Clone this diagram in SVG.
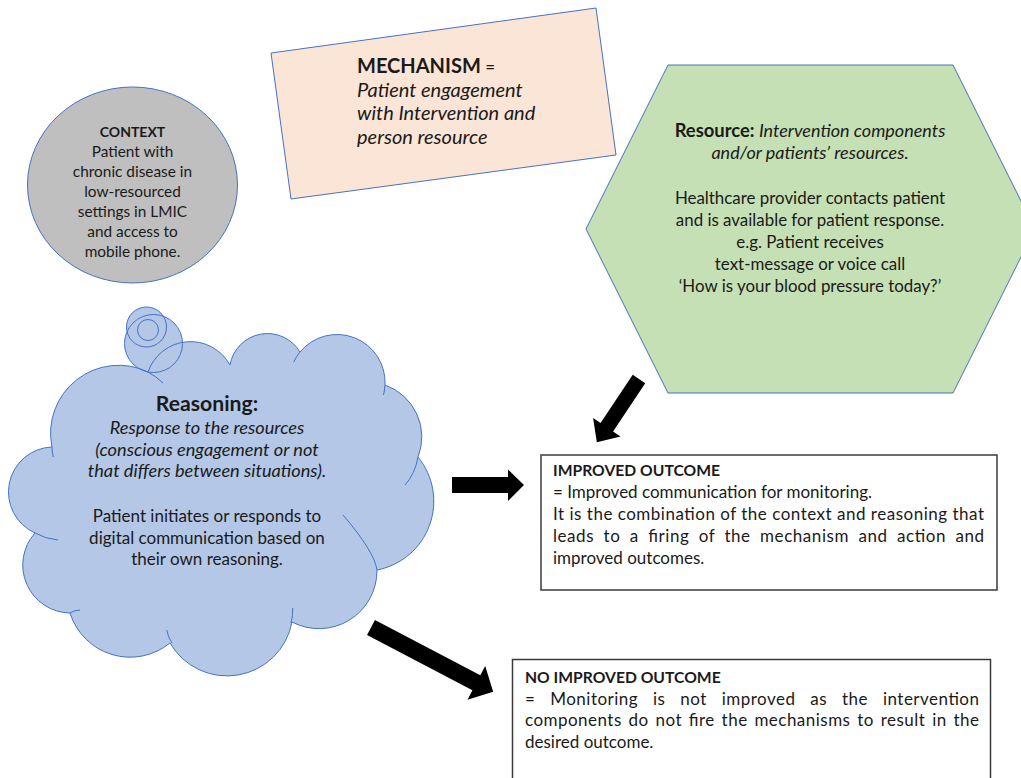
<svg xmlns="http://www.w3.org/2000/svg" width="1021" height="778" viewBox="0 0 1021 778">
<style>
text{font-family:Lato,"Liberation Sans",sans-serif;fill:#1a1a1a}
.shape{stroke:#4472C4;stroke-width:1}
.b{font-weight:bold}
.i{font-style:italic}
.c{text-anchor:middle}
.box{fill:#fff;stroke:#3a3a3a;stroke-width:1.5}
.arrow{fill:#000}
.inner{fill:none;stroke:#4472C4;stroke-width:1}
</style>
<rect width="1021" height="778" fill="#fff"/>

<g id="context">
<ellipse class="shape" cx="132.5" cy="185" rx="105" ry="98" fill="#BFBFBF"/>
<text class="c" font-size="15.4"><tspan class="b" x="132.5" y="137" font-size="14">CONTEXT</tspan><tspan x="132.5" y="157">Patient with</tspan><tspan x="132.5" y="177">chronic disease in</tspan><tspan x="132.5" y="197">low-resourced</tspan><tspan x="132.5" y="217">settings in LMIC</tspan><tspan x="132.5" y="237">and access to</tspan><tspan x="132.5" y="257">mobile phone.</tspan></text>
</g>

<g id="mechanism">
<polygon class="shape" points="271,53 596,8 616,155 291,199" fill="#FBE5D6"/>
<text x="357" y="73" font-size="20"><tspan class="b">MECHANISM</tspan><tspan font-size="17"> =</tspan></text>
<text class="i" font-size="20"><tspan x="357" y="97">Patient engagement</tspan><tspan x="357" y="120">with Intervention and</tspan><tspan x="357" y="144">person resource</tspan></text>
</g>

<g id="resource">
<polygon class="shape" points="668,65 953,65 1035,229 953,393 668,393 586,229" fill="#C5E0B4"/>
<text class="c" font-size="16.9"><tspan x="810" y="137"><tspan class="b" font-size="18.4">Resource:</tspan> <tspan class="i" font-size="18">Intervention components</tspan></tspan><tspan class="i" x="810" y="159" font-size="18">and/or patients’ resources.</tspan><tspan x="810" y="204">Healthcare provider contacts patient</tspan><tspan x="810" y="226">and is available for patient response.</tspan><tspan x="810" y="248">e.g. Patient receives</tspan><tspan x="810" y="270">text-message or voice call</tspan><tspan x="810" y="292">‘How is your blood pressure today?’</tspan></text>
</g>

<g id="reasoning">
<path d="M52,447 A68,68 0 0 1 148,372 A45,45 0 0 1 230,365 A38,38 0 0 1 300,352 A48,48 0 0 1 385,385 A55,55 0 0 1 418,457 A70,70 0 0 1 377,570 A58,58 0 0 1 292,622 A66,66 0 0 1 170,643 A63,63 0 0 1 70,613 A48,48 0 0 1 35,533 A45,45 0 0 1 52,447 Z" fill="#B4C7E7"/>
<circle cx="153.5" cy="343.5" r="29" fill="#B4C7E7"/>
<circle cx="146.5" cy="327" r="20" fill="#B4C7E7"/>
<circle cx="148" cy="330" r="10.5" fill="#B4C7E7"/>
<path class="inner" d="M52,447 A68,68 0 0 1 148,372 A45,45 0 0 1 230,365 A38,38 0 0 1 300,352 A48,48 0 0 1 385,385 A55,55 0 0 1 418,457 A70,70 0 0 1 377,570 A58,58 0 0 1 292,622 A66,66 0 0 1 170,643 A63,63 0 0 1 70,613 A48,48 0 0 1 35,533 A45,45 0 0 1 52,447 Z"/>
<circle class="inner" cx="153.5" cy="343.5" r="29"/>
<circle class="inner" cx="146.5" cy="327" r="20"/>
<circle class="inner" cx="148" cy="330" r="10.5"/>
<path class="inner" d="M148,372 A68,68 0 0 1 163,383 M293.6,362.2 A48,48 0 0 1 300,352 M385,385 A48,48 0 0 1 383.5,395 M418,457 Q415,474 405,485 M343,515 Q374,551 377,570 M292.7,608 Q293,616 291,623 M166.7,630 Q168,637 172,643 M70,613 Q75,610 80,610 M35,533 Q46,539 58,540 M52,447 Q52,452 53.3,457"/>
<text class="c b" x="207" y="411" font-size="21.2">Reasoning:</text>
<text class="c i" font-size="18.2"><tspan x="207" y="434">Response to the resources</tspan><tspan x="207" y="456">(conscious engagement or not</tspan><tspan x="207" y="477">that differs between situations).</tspan></text>
<text class="c" font-size="17"><tspan x="207" y="522">Patient initiates or responds to</tspan><tspan x="207" y="543.5">digital communication based on</tspan><tspan x="207" y="565">their own reasoning.</tspan></text>
</g>

<g id="improved-outcome">
<rect class="box" x="541" y="455" width="456" height="135"/>
<text font-size="17"><tspan class="b" font-size="15.7" x="553" y="476">IMPROVED OUTCOME</tspan><tspan x="553" y="498">= Improved communication for monitoring.</tspan><tspan x="553" y="520" textLength="431" lengthAdjust="spacing">It is the combination of the context and reasoning that</tspan><tspan x="553" y="542" word-spacing="4.5" textLength="431" lengthAdjust="spacing">leads to a firing of the mechanism and action and</tspan><tspan x="553" y="564">improved outcomes.</tspan></text>
</g>

<g id="no-improved-outcome">
<rect class="box" x="512.5" y="659.5" width="478" height="140"/>
<text font-size="17"><tspan class="b" font-size="15.7" x="525" y="683">NO IMPROVED OUTCOME</tspan><tspan x="525" y="704.5" word-spacing="10" textLength="454" lengthAdjust="spacing">= Monitoring is not improved as the intervention</tspan><tspan x="525" y="726" word-spacing="2" textLength="454" lengthAdjust="spacing">components do not fire the mechanisms to result in the</tspan><tspan x="525" y="748">desired outcome.</tspan></text>
</g>

<g id="connectors">
<path class="arrow" transform="translate(639,379) rotate(123.7)" d="M0,-7.5 H58 V-16.5 L76,0 L58,16.5 V7.5 H0 Z"/>
<path class="arrow" d="M452,477 H508 V469.5 L524,485 L508,501 V493 H452 Z"/>
<path class="arrow" transform="translate(371,627.5) rotate(27.7)" d="M0,-8.5 H119 V-19 L138,0 L119,19 V8.5 H0 Z"/>
</g>
</svg>
